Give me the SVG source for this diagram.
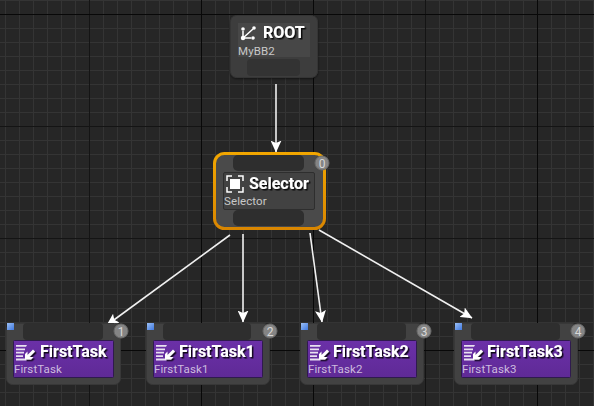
<svg xmlns="http://www.w3.org/2000/svg" width="594" height="406" viewBox="0 0 594 406">
<style>
.t{font-family:Roboto,"Liberation Sans",sans-serif;font-weight:700;font-size:16px;fill:#fff;filter:url(#ts)}
.s{font-family:Roboto,"Liberation Sans",sans-serif;font-size:11.5px;letter-spacing:.1px;fill:#c8c8c8}
.sp{fill:#cdbbdf}
.outer{fill:#424242;stroke:#383838;stroke-width:1}
.pin{fill:#2e2e2e}
.bt{fill:#858585;stroke:#6a6a6a;stroke-width:1}
.bn{font-family:Roboto,"Liberation Sans",sans-serif;font-size:12px;fill:#d8d8d8;text-anchor:middle}
.blue{fill:url(#bg)}
.ic{fill:#fff}
.conn line{stroke:#f0f0f0;stroke-width:1.6}
</style>
<defs>
<filter id="ts" x="-10%" y="-20%" width="125%" height="150%"><feDropShadow dx="1.500" dy="1.500" stdDeviation="0" flood-color="#000" flood-opacity=".85"/></filter>
<filter id="ns" x="-10%" y="-10%" width="120%" height="125%"><feDropShadow dx="0" dy="1" stdDeviation="1.200" flood-color="#000" flood-opacity=".5"/></filter>
<linearGradient id="pg" x1="0" y1="0" x2="0" y2="1"><stop offset="0" stop-color="#6b30a8"/><stop offset="1" stop-color="#5f2a96"/></linearGradient>
<linearGradient id="og" x1="0" y1="0" x2="0" y2="1"><stop offset="0" stop-color="#f2a600"/><stop offset="1" stop-color="#d98600"/></linearGradient>
<linearGradient id="bg" x1="0" y1="0" x2="1" y2="1"><stop offset="0" stop-color="#9cc0f5"/><stop offset="1" stop-color="#3f78e0"/></linearGradient>
<marker id="ah" viewBox="0 0 12 11" refX="11.500" refY="5.500" markerWidth="12" markerHeight="11" markerUnits="userSpaceOnUse" orient="auto"><path d="M0 0L12 5.500L0 11L2.500 5.500Z" fill="#fff"/></marker>
<pattern id="minor" x="5" y="0" width="14" height="14" patternUnits="userSpaceOnUse"><path d="M.5 0V14M0 .5H14" stroke="#343434" stroke-width="1" fill="none"/></pattern>
<g id="taskicon"><path d="M0 0H11L10 1.800H0ZM0 3.400H9V5.200H0ZM0 6.800H8V8.600H0ZM0 10.200H7V12H0ZM0 13.600H10L11 15.400H0Z" fill="#e8e0f0"/><path d="M17 4.500L11.500 10V6.500L9 9V14.500H15L17.500 12H13.500L19 6.500Z" fill="#fff" filter="url(#ts)"/></g>
</defs>
<rect width="594" height="406" fill="#262626"/>
<rect width="594" height="406" fill="url(#minor)"/>
<path d="M89.500 0V406M425.500 0V406M0 126.500H594M0 238.500H594" stroke="#141414" stroke-width="1" fill="none"/>
<path d="M201.500 0V406M313.500 0V406M537.500 0V406M0 14.500H594M0 350.500H594" stroke="#080808" stroke-width="1" fill="none"/>

<g class="conn">
<line x1="276" y1="84" x2="276" y2="152" marker-end="url(#ah)"/>
<line x1="230" y1="235" x2="107" y2="325" marker-end="url(#ah)"/>
<line x1="243" y1="234" x2="243" y2="322" marker-end="url(#ah)"/>
<line x1="310" y1="233" x2="322" y2="322" marker-end="url(#ah)"/>
<line x1="319" y1="230" x2="472" y2="318" marker-end="url(#ah)"/>
</g>

<g id="root">
<rect x="230.500" y="15.500" width="87" height="62" rx="6" fill="#3c3c3c" stroke="#353535" filter="url(#ns)"/>
<rect x="238" y="23" width="72" height="34" fill="#474747"/>
<rect x="247" y="59" width="53" height="17" rx="4" fill="#333"/>
<path d="M243 38L253 29M243 38H251M243 38V31" stroke="#fff" stroke-width="1.500" fill="none"/>
<circle cx="243" cy="38" r="2.200" class="ic"/><circle cx="254" cy="28" r="1.800" class="ic"/><circle cx="243" cy="29" r="1.800" class="ic"/><circle cx="253" cy="38" r="1.800" class="ic"/>
<text x="263" y="38" class="t">ROOT</text>
<text x="238" y="55" class="s">MyBB2</text>
</g>

<g id="selector">
<rect x="214.500" y="153.500" width="110" height="75" rx="10" fill="#4a4a4a" stroke="url(#og)" stroke-width="3"/>
<rect x="233" y="155" width="71" height="16" rx="5" class="pin"/>
<rect x="233" y="210" width="71" height="16" rx="5" class="pin"/>
<rect x="223.500" y="172.500" width="91" height="37" rx="1.500" fill="#424242" stroke="#2e2e2e"/>
<path d="M227 181V176H232M238 176H243V181M243 187V192H238M232 192H227V187" stroke="#fff" stroke-width="1.500" fill="none"/>
<rect x="230" y="179" width="10" height="10" class="ic"/>
<text x="249" y="189" class="t">Selector</text>
<text x="224" y="205" class="s">Selector</text>
<circle cx="322" cy="163" r="7" class="bt"/>
<text x="322" y="167.500" class="bn">0</text>
</g>

<g id="task0">
<rect x="6.500" y="323.500" width="114" height="61" rx="6" class="outer"/>
<rect x="23" y="323" width="80" height="17" rx="4" class="pin"/>
<rect x="13.500" y="340.500" width="100" height="37" rx="1" fill="url(#pg)" stroke="#2f1a4e"/>
<use href="#taskicon" x="16" y="345"/>
<text x="40" y="357" class="t">FirstTask</text>
<text x="14" y="373" class="s sp">FirstTask</text>
<circle cx="121" cy="331" r="7" class="bt"/>
<text x="121" y="335.500" class="bn">1</text>
<rect x="7" y="323" width="7" height="7" class="blue"/>
</g>

<g id="task1">
<rect x="146.500" y="323.500" width="123" height="61" rx="6" class="outer"/>
<rect x="163" y="323" width="88" height="17" rx="4" class="pin"/>
<rect x="153.500" y="340.500" width="109" height="37" rx="1" fill="url(#pg)" stroke="#2f1a4e"/>
<use href="#taskicon" x="156" y="345"/>
<text x="179" y="357" class="t">FirstTask1</text>
<text x="154" y="373" class="s sp">FirstTask1</text>
<circle cx="270" cy="331" r="7" class="bt"/>
<text x="270" y="335.500" class="bn">2</text>
<rect x="147" y="323" width="7" height="7" class="blue"/>
</g>

<g id="task2">
<rect x="300.500" y="323.500" width="123" height="61" rx="6" class="outer"/>
<rect x="317" y="323" width="89" height="17" rx="4" class="pin"/>
<rect x="307.500" y="340.500" width="109" height="37" rx="1" fill="url(#pg)" stroke="#2f1a4e"/>
<use href="#taskicon" x="310" y="345"/>
<text x="333" y="357" class="t">FirstTask2</text>
<text x="308" y="373" class="s sp">FirstTask2</text>
<circle cx="424" cy="331" r="7" class="bt"/>
<text x="424" y="335.500" class="bn">3</text>
<rect x="301" y="323" width="7" height="7" class="blue"/>
</g>

<g id="task3">
<rect x="454.500" y="323.500" width="123" height="61" rx="6" class="outer"/>
<rect x="471" y="323" width="89" height="17" rx="4" class="pin"/>
<rect x="461.500" y="340.500" width="109" height="37" rx="1" fill="url(#pg)" stroke="#2f1a4e"/>
<use href="#taskicon" x="464" y="345"/>
<text x="487" y="357" class="t">FirstTask3</text>
<text x="462" y="373" class="s sp">FirstTask3</text>
<circle cx="578" cy="331" r="7" class="bt"/>
<text x="578" y="335.500" class="bn">4</text>
<rect x="455" y="323" width="7" height="7" class="blue"/>
</g>
</svg>
